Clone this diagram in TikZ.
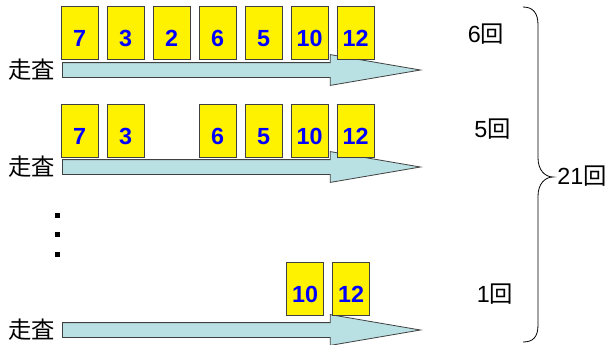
\documentclass[tikz,border=0pt]{standalone}
\usepackage{fontspec}
\setmainfont{Liberation Sans}
\newfontfamily\jp{Noto Sans CJK JP}
\usetikzlibrary{shapes.arrows}
\definecolor{scanfill}{HTML}{B9E0E3}
\definecolor{edgegray}{HTML}{404040}
\tikzset{
  card/.style={draw=edgegray, fill=yellow, line width=0.6pt, minimum width=27.75pt, minimum height=39.75pt, inner sep=0pt, text height=20pt, text depth=0pt, text=blue, font=\fontsize{17.5}{20}\selectfont\bfseries},
  scan/.style={single arrow, draw=edgegray, fill=scanfill, line width=0.6pt, anchor=tail, minimum height=268.5pt, single arrow head extend=6pt, inner xsep=0pt, inner ysep=5.25pt, single arrow tip angle=19.4, single arrow head indent=0pt},
  lbl/.style={font=\fontsize{17.5}{20}\selectfont, inner sep=0pt},
  dot/.style={fill=black, minimum size=3.75pt, inner sep=0pt}
}
\begin{document}
\begin{tikzpicture}[x=0.75pt,y=-0.75pt]
\useasboundingbox (0,0) rectangle (613,344);

% Scan arrows
\node[scan] (s1) at (62,70) {};
\node[scan] (s2) at (62,167) {};
\node[scan] (s3) at (62,330) {};
\node[lbl] (t1) at (31.5,70) {\jp 走査};
\node[lbl] (t2) at (31.5,167) {\jp 走査};
\node[lbl] (t3) at (31.5,330) {\jp 走査};

% First pass
\node[card] (a1) at (79.5,33) {7};
\node[card] (a2) at (125.5,33) {3};
\node[card] (a3) at (171.5,33) {2};
\node[card] (a4) at (217.5,33) {6};
\node[card] (a5) at (263.5,33) {5};
\node[card] (a6) at (309.5,33) {10};
\node[card] (a7) at (355.5,33) {12};

% Second pass
\node[card] (b1) at (79.5,131) {7};
\node[card] (b2) at (125.5,131) {3};
\node[card] (b4) at (217.5,131) {6};
\node[card] (b5) at (263.5,131) {5};
\node[card] (b6) at (309.5,131) {10};
\node[card] (b7) at (355.5,131) {12};

% Dots
\node[dot] (d1) at (57,215) {};
\node[dot] (d2) at (57,234) {};
\node[dot] (d3) at (57,254) {};

% Last pass
\node[card] (c6) at (305,289) {10};
\node[card] (c7) at (351,289) {12};

% Counts
\node[lbl] (n1) at (486,34) {6{\jp 回}};
\node[lbl] (n2) at (492.5,129) {5{\jp 回}};
\node[lbl] (n3) at (495,294) {1{\jp 回}};
\node[lbl, anchor=west] (tot) at (557,176) {21{\jp 回}};

% Brace
\draw[line width=0.6pt] (523,7) .. controls (533,7) and (538,13) .. (538,25) -- (538,158)
  .. controls (538,170) and (545,177) .. (553,177)
  .. controls (545,177) and (538,184) .. (538,196) -- (538,325)
  .. controls (538,337) and (533,342) .. (523,342);

\end{tikzpicture}
\end{document}
